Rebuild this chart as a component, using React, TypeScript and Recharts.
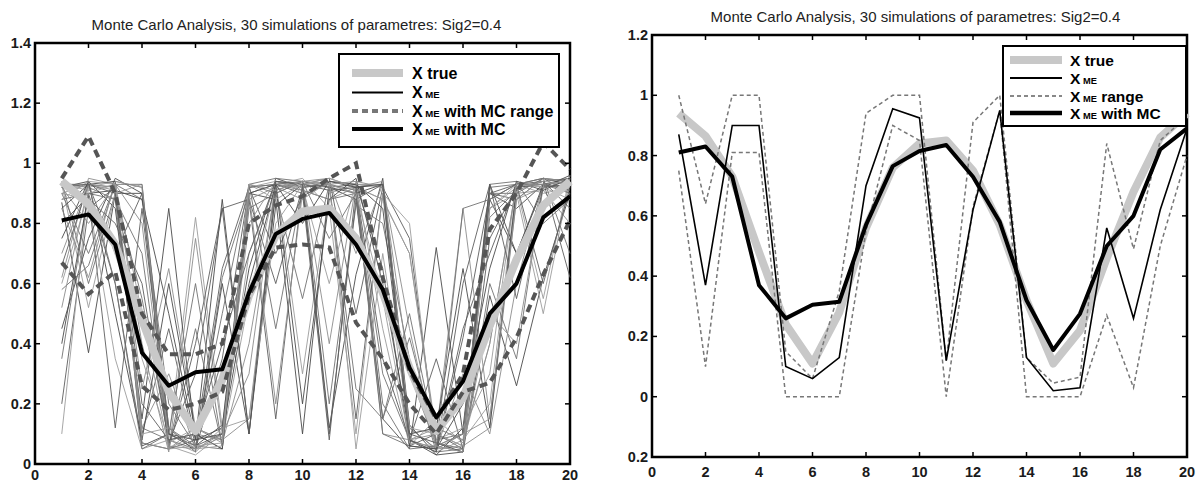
import React from "react";
import { LineChart, Line, XAxis, YAxis, ReferenceArea } from "recharts";

// ---------------- data ----------------
const steps = [1, 2, 3, 4, 5, 6, 7, 8, 9, 10, 11, 12, 13, 14, 15, 16, 17, 18, 19, 20];
const xTicks = [0, 2, 4, 6, 8, 10, 12, 14, 16, 18, 20];
const leftYTicks = [0, 0.2, 0.4, 0.6, 0.8, 1, 1.2, 1.4];
const rightYTicks = [-0.2, 0, 0.2, 0.4, 0.6, 0.8, 1, 1.2];
const titleText = "Monte Carlo Analysis, 30 simulations of parametres: Sig2=0.4";

const xTrue = [0.94, 0.865, 0.73, 0.48, 0.24, 0.11, 0.28, 0.56, 0.76, 0.84, 0.85, 0.75, 0.57, 0.32, 0.11, 0.22, 0.46, 0.68, 0.86, 0.94];
const xMeMc = [0.81, 0.83, 0.73, 0.37, 0.26, 0.305, 0.315, 0.57, 0.765, 0.815, 0.835, 0.73, 0.58, 0.32, 0.155, 0.275, 0.5, 0.6, 0.82, 0.89];
const mcRangeUpper = [0.95, 1.09, 0.9, 0.5, 0.365, 0.365, 0.4, 0.8, 0.86, 0.89, 0.95, 1.0, 0.62, 0.31, 0.15, 0.3, 0.78, 0.9, 1.07, 0.98];
const mcRangeLower = [0.67, 0.565, 0.64, 0.26, 0.18, 0.2, 0.24, 0.56, 0.72, 0.73, 0.72, 0.47, 0.35, 0.2, 0.1, 0.24, 0.27, 0.42, 0.63, 0.81];

const xMeSingle = [0.87, 0.37, 0.9, 0.9, 0.1, 0.06, 0.13, 0.7, 0.955, 0.925, 0.12, 0.62, 0.95, 0.13, 0.02, 0.03, 0.56, 0.26, 0.62, 0.89];
const meRangeUpper = [1.0, 0.64, 1.0, 1.0, 0.15, 0.06, 0.35, 0.94, 1.0, 1.0, 0.12, 0.91, 1.0, 0.13, 0.045, 0.065, 0.84, 0.49, 0.85, 0.93];
const meRangeLower = [0.75, 0.1, 0.81, 0.81, 0.0, 0.0, 0.0, 0.55, 0.9, 0.85, 0.0, 0.63, 0.95, 0.0, 0.0, 0.0, 0.27, 0.03, 0.5, 0.8];

const sim01 = [0.87, 0.37, 0.9, 0.9, 0.1, 0.06, 0.13, 0.65, 0.95, 0.92, 0.12, 0.63, 0.95, 0.13, 0.03, 0.04, 0.56, 0.26, 0.62, 0.9];
const sim02 = [0.93, 0.92, 0.88, 0.12, 0.08, 0.05, 0.62, 0.9, 0.93, 0.91, 0.88, 0.9, 0.3, 0.08, 0.05, 0.1, 0.82, 0.91, 0.94, 0.95];
const sim03 = [0.62, 0.95, 0.93, 0.8, 0.05, 0.1, 0.08, 0.15, 0.9, 0.94, 0.95, 0.92, 0.88, 0.7, 0.1, 0.06, 0.12, 0.88, 0.92, 0.93];
const sim04 = [0.2, 0.85, 0.92, 0.1, 0.45, 0.06, 0.1, 0.88, 0.6, 0.92, 0.93, 0.15, 0.9, 0.12, 0.05, 0.45, 0.7, 0.93, 0.95, 0.9];
const sim05 = [0.9, 0.88, 0.35, 0.05, 0.08, 0.82, 0.12, 0.92, 0.94, 0.3, 0.9, 0.93, 0.92, 0.1, 0.12, 0.08, 0.2, 0.92, 0.55, 0.96];
const sim06 = [0.45, 0.75, 0.95, 0.9, 0.12, 0.04, 0.6, 0.1, 0.86, 0.93, 0.92, 0.88, 0.15, 0.05, 0.72, 0.1, 0.9, 0.85, 0.93, 0.92];
const sim07 = [0.94, 0.6, 0.9, 0.55, 0.08, 0.1, 0.05, 0.93, 0.95, 0.94, 0.2, 0.86, 0.8, 0.35, 0.04, 0.05, 0.6, 0.35, 0.93, 0.94];
const sim08 = [0.7, 0.93, 0.91, 0.25, 0.65, 0.12, 0.07, 0.4, 0.92, 0.88, 0.94, 0.93, 0.1, 0.08, 0.1, 0.85, 0.15, 0.9, 0.91, 0.8];
const sim09 = [0.88, 0.9, 0.6, 0.07, 0.05, 0.4, 0.85, 0.88, 0.15, 0.93, 0.95, 0.5, 0.92, 0.75, 0.06, 0.04, 0.9, 0.88, 0.95, 0.94];
const sim10 = [0.1, 0.92, 0.94, 0.92, 0.06, 0.03, 0.1, 0.7, 0.93, 0.92, 0.6, 0.94, 0.45, 0.06, 0.15, 0.07, 0.4, 0.93, 0.9, 0.92];
const sim11 = [0.92, 0.94, 0.85, 0.15, 0.85, 0.08, 0.12, 0.9, 0.88, 0.1, 0.92, 0.9, 0.93, 0.08, 0.03, 0.12, 0.88, 0.7, 0.92, 0.96];
const sim12 = [0.58, 0.66, 0.93, 0.88, 0.2, 0.06, 0.05, 0.85, 0.9, 0.94, 0.93, 0.25, 0.15, 0.42, 0.08, 0.1, 0.93, 0.94, 0.8, 0.88];
const sim13 = [0.9, 0.93, 0.92, 0.4, 0.04, 0.75, 0.1, 0.3, 0.94, 0.91, 0.88, 0.92, 0.94, 0.12, 0.05, 0.3, 0.1, 0.6, 0.93, 0.94];
const sim14 = [0.8, 0.89, 0.12, 0.85, 0.1, 0.05, 0.35, 0.92, 0.7, 0.89, 0.94, 0.93, 0.65, 0.06, 0.1, 0.05, 0.75, 0.92, 0.94, 0.62];
const sim15 = [0.93, 0.52, 0.9, 0.93, 0.07, 0.12, 0.08, 0.55, 0.93, 0.95, 0.85, 0.1, 0.9, 0.8, 0.04, 0.08, 0.85, 0.9, 0.5, 0.95];
const sim16 = [0.85, 0.93, 0.94, 0.06, 0.1, 0.08, 0.88, 0.1, 0.91, 0.94, 0.92, 0.93, 0.85, 0.1, 0.12, 0.65, 0.12, 0.92, 0.93, 0.91];
const sim17 = [0.35, 0.9, 0.88, 0.7, 0.06, 0.45, 0.06, 0.93, 0.9, 0.55, 0.93, 0.91, 0.2, 0.05, 0.06, 0.1, 0.92, 0.93, 0.95, 0.93];
const sim18 = [0.92, 0.8, 0.93, 0.12, 0.3, 0.05, 0.1, 0.8, 0.94, 0.92, 0.94, 0.7, 0.93, 0.45, 0.05, 0.06, 0.5, 0.4, 0.92, 0.94];
const sim19 = [0.66, 0.93, 0.7, 0.9, 0.05, 0.08, 0.65, 0.92, 0.93, 0.9, 0.08, 0.92, 0.93, 0.08, 0.35, 0.05, 0.88, 0.93, 0.94, 0.85];
const sim20 = [0.93, 0.91, 0.93, 0.35, 0.08, 0.04, 0.12, 0.15, 0.8, 0.93, 0.95, 0.92, 0.88, 0.7, 0.08, 0.12, 0.3, 0.94, 0.92, 0.93];
const sim21 = [0.75, 0.94, 0.5, 0.08, 0.6, 0.1, 0.05, 0.9, 0.93, 0.2, 0.88, 0.95, 0.6, 0.1, 0.07, 0.04, 0.93, 0.7, 0.93, 0.95];
const sim22 = [0.9, 0.7, 0.93, 0.93, 0.12, 0.06, 0.5, 0.93, 0.45, 0.92, 0.93, 0.9, 0.1, 0.06, 0.05, 0.85, 0.88, 0.93, 0.93, 0.9];
const sim23 = [0.52, 0.93, 0.92, 0.07, 0.05, 0.12, 0.08, 0.88, 0.92, 0.94, 0.4, 0.93, 0.93, 0.3, 0.06, 0.1, 0.15, 0.88, 0.95, 0.94];
const sim24 = [0.93, 0.88, 0.8, 0.6, 0.07, 0.3, 0.85, 0.1, 0.94, 0.93, 0.91, 0.92, 0.35, 0.08, 0.04, 0.42, 0.9, 0.93, 0.6, 0.92];
const sim25 = [0.88, 0.94, 0.93, 0.1, 0.12, 0.05, 0.06, 0.93, 0.88, 0.93, 0.94, 0.05, 0.7, 0.12, 0.1, 0.06, 0.85, 0.92, 0.94, 0.93];
const sim26 = [0.4, 0.9, 0.91, 0.88, 0.5, 0.08, 0.1, 0.6, 0.93, 0.8, 0.94, 0.92, 0.93, 0.06, 0.05, 0.2, 0.65, 0.94, 0.91, 0.95];
const sim27 = [0.93, 0.93, 0.6, 0.05, 0.1, 0.6, 0.06, 0.92, 0.93, 0.94, 0.75, 0.9, 0.15, 0.5, 0.07, 0.05, 0.9, 0.9, 0.95, 0.7];
const sim28 = [0.85, 0.62, 0.94, 0.92, 0.06, 0.05, 0.09, 0.9, 0.2, 0.9, 0.93, 0.94, 0.92, 0.08, 0.12, 0.08, 0.4, 0.93, 0.93, 0.94];
const sim29 = [0.92, 0.93, 0.9, 0.2, 0.08, 0.1, 0.4, 0.7, 0.94, 0.93, 0.1, 0.88, 0.93, 0.08, 0.04, 0.6, 0.93, 0.55, 0.92, 0.93];
const sim30 = [0.6, 0.9, 0.93, 0.5, 0.05, 0.06, 0.07, 0.93, 0.91, 0.94, 0.93, 0.9, 0.55, 0.07, 0.06, 0.04, 0.85, 0.93, 0.92, 0.88];

const simulations = [
  sim01, sim02, sim03, sim04, sim05, sim06, sim07, sim08, sim09, sim10,
  sim11, sim12, sim13, sim14, sim15, sim16, sim17, sim18, sim19, sim20,
  sim21, sim22, sim23, sim24, sim25, sim26, sim27, sim28, sim29, sim30,
];

const leftLegendLabels = [
  { main: "X", sub: "ME", rest: "", name: "true" },
  { main: "X", sub: "ME", rest: "", name: "me" },
  { main: "X", sub: "ME", rest: " with MC range", name: "range" },
  { main: "X", sub: "ME", rest: " with MC", name: "mc" },
];
const rightLegendLabels = [
  { main: "X", sub: "ME", rest: "", name: "true" },
  { main: "X", sub: "ME", rest: "", name: "me" },
  { main: "X", sub: "ME", rest: " range", name: "range" },
  { main: "X", sub: "ME", rest: " with MC", name: "mc" },
];

// ---------------- table built from arrays ----------------
const leftData = steps.map((s, i) => {
  const row: Record<string, number> = {
    x: s,
    xTrue: xTrue[i],
    xMeMc: xMeMc[i],
    up: mcRangeUpper[i],
    lo: mcRangeLower[i],
  };
  simulations.forEach((sim, k) => {
    row["s" + k] = sim[i];
  });
  return row;
});

const rightData = steps.map((s, i) => ({
  x: s,
  xTrue: xTrue[i],
  xMeMc: xMeMc[i],
  xMe: xMeSingle[i],
  up: meRangeUpper[i],
  lo: meRangeLower[i],
}));

// ---------------- styles ----------------
const FONT = '"Liberation Sans", Arial, Helvetica, sans-serif';
const tickTextStyle: React.CSSProperties = { fontFamily: FONT, fontSize: 14.5, fontWeight: 700, fill: "#1a1a1a" };
const simColors = ["#4a4a4a", "#727272", "#8c8c8c", "#5e5e5e", "#9c9c9c"];
const TRUE_COLOR = "#c8c8c8";

function fmtY(v: number) {
  const a = Math.abs(v);
  const r = Math.round(a * 10) / 10;
  return String(r);
}

function makeXTick(top: number, bottom: number, labelDy: number) {
  return (props: any) => {
    const { x, payload } = props;
    const v = payload.value;
    const inner = v !== 0 && v !== 20;
    return (
      <g>
        {inner && <line x1={x} x2={x} y1={bottom} y2={bottom - 5} stroke="#000" strokeWidth={1.5} />}
        {inner && <line x1={x} x2={x} y1={top} y2={top + 5} stroke="#000" strokeWidth={1.5} />}
        <text x={x} y={bottom + labelDy} textAnchor="middle" style={tickTextStyle}>
          {v}
        </text>
      </g>
    );
  };
}

function makeYTick(left: number, right: number, isEnd: (v: number) => boolean) {
  return (props: any) => {
    const { y, payload } = props;
    const v = payload.value;
    const inner = !isEnd(v);
    return (
      <g>
        {inner && <line x1={left} x2={left + 5} y1={y} y2={y} stroke="#000" strokeWidth={1.5} />}
        {inner && <line x1={right} x2={right - 5} y1={y} y2={y} stroke="#000" strokeWidth={1.5} />}
        <text x={left - 4} y={y + 5} textAnchor="end" style={tickTextStyle}>
          {fmtY(v)}
        </text>
      </g>
    );
  };
}

type LegendItem = { main: string; sub: string; rest: string; name: string };

function LegendBox(props: {
  left: number;
  top: number;
  width: number;
  height: number;
  items: LegendItem[];
  rows: number[];
  fontSize: number;
  sampleX1: number;
  sampleX2: number;
  textX: number;
  styles: Record<string, { stroke: string; width: number; dash?: string }>;
}) {
  const { left, top, width, height, items, rows, fontSize, sampleX1, sampleX2, textX, styles } = props;
  return (
    <svg
      width={width}
      height={height}
      style={{ position: "absolute", left, top, overflow: "visible" }}
    >
      <rect x={1} y={1} width={width - 2} height={height - 2} fill="#fff" stroke="#000" strokeWidth={2} />
      {items.map((it, i) => {
        const st = styles[it.name];
        const label = it.name === "true" ? "true" : null;
        return (
          <g key={i}>
            <line
              x1={sampleX1}
              x2={sampleX2}
              y1={rows[i]}
              y2={rows[i]}
              stroke={st.stroke}
              strokeWidth={st.width}
              strokeDasharray={st.dash}
            />
            <text
              x={textX}
              y={rows[i] + fontSize * 0.36}
              style={{ fontFamily: FONT, fontWeight: 700, fontSize, fill: "#000" }}
            >
              {it.main}
              {label ? (
                <tspan> {label}</tspan>
              ) : (
                <>
                  <tspan fontSize={fontSize * 0.6}> {it.sub}</tspan>
                  <tspan>{it.rest}</tspan>
                </>
              )}
            </text>
          </g>
        );
      })}
    </svg>
  );
}

// ---------------- layout constants ----------------
const L = { w: 600, h: 483, top: 43, bottom: 464, left: 35, right: 570 };
const R = { x0: 610, w: 588, h: 483, top: 35, bottom: 457, left: 42, right: 577 };

export default function App() {
  return (
    <div style={{ position: "absolute", left: 0, top: 0, width: 1198, height: 483, background: "#fff", overflow: "hidden" }}>
      {/* left panel */}
      <div style={{ position: "absolute", left: 0, top: 0 }}>
        <LineChart
          width={L.w}
          height={L.h}
          data={leftData}
          margin={{ top: L.top, right: L.w - L.right, bottom: 0, left: 0 }}
        >
          <XAxis
            dataKey="x"
            type="number"
            domain={[0, 20]}
            ticks={xTicks}
            height={L.h - L.bottom}
            tickSize={0}
            tickMargin={0}
            axisLine={false}
            tickLine={false}
            interval={0}
            tick={makeXTick(L.top, L.bottom, 15.5)}
          />
          <YAxis
            type="number"
            domain={[0, 1.4]}
            ticks={leftYTicks}
            width={L.left}
            tickSize={0}
            tickMargin={0}
            axisLine={false}
            tickLine={false}
            interval={0}
            tick={makeYTick(L.left, L.right, (v) => v === 0 || v === 1.4)}
          />
          {simulations.map((_, k) => (
            <Line
              key={k}
              dataKey={"s" + k}
              type="linear"
              stroke={simColors[k % simColors.length]}
              strokeWidth={0.9}
              dot={false}
              activeDot={false}
              isAnimationActive={false}
            />
          ))}
          <Line dataKey="xTrue" type="linear" stroke={TRUE_COLOR} strokeWidth={8} strokeLinejoin="round" dot={false} activeDot={false} isAnimationActive={false} />
          <Line dataKey="up" type="linear" stroke="#555" strokeWidth={4} strokeDasharray="8 5" dot={false} activeDot={false} isAnimationActive={false} />
          <Line dataKey="lo" type="linear" stroke="#555" strokeWidth={4} strokeDasharray="8 5" dot={false} activeDot={false} isAnimationActive={false} />
          <Line dataKey="xMeMc" type="linear" stroke="#000" strokeWidth={4} strokeLinejoin="round" dot={false} activeDot={false} isAnimationActive={false} />
          <ReferenceArea x1={0} x2={20} y1={0} y2={1.4} fill="none" stroke="#000" strokeWidth={2.5} ifOverflow="visible" />
        </LineChart>
        <div
          style={{
            position: "absolute",
            left: L.left - 6,
            width: L.right - L.left,
            top: 16,
            textAlign: "center",
            fontFamily: FONT,
            fontSize: 15,
            color: "#222",
            whiteSpace: "nowrap",
          }}
        >
          {titleText}
        </div>
        <LegendBox
          left={338}
          top={53}
          width={222}
          height={95}
          items={leftLegendLabels}
          rows={[20, 39.5, 58, 76]}
          fontSize={16}
          sampleX1={14}
          sampleX2={65}
          textX={74}
          styles={{
            true: { stroke: TRUE_COLOR, width: 8 },
            me: { stroke: "#000", width: 2 },
            range: { stroke: "#777", width: 4, dash: "6 4" },
            mc: { stroke: "#000", width: 4 },
          }}
        />
      </div>

      {/* right panel */}
      <div style={{ position: "absolute", left: R.x0, top: 0 }}>
        <LineChart
          width={R.w}
          height={R.h}
          data={rightData}
          margin={{ top: R.top, right: R.w - R.right, bottom: 0, left: 0 }}
        >
          <XAxis
            dataKey="x"
            type="number"
            domain={[0, 20]}
            ticks={xTicks}
            height={R.h - R.bottom}
            tickSize={0}
            tickMargin={0}
            axisLine={false}
            tickLine={false}
            interval={0}
            tick={makeXTick(R.top, R.bottom, 20)}
          />
          <YAxis
            type="number"
            domain={[-0.2, 1.2]}
            ticks={rightYTicks}
            width={R.left}
            tickSize={0}
            tickMargin={0}
            axisLine={false}
            tickLine={false}
            interval={0}
            tick={makeYTick(R.left, R.right, (v) => Math.abs(v + 0.2) < 1e-9 || Math.abs(v - 1.2) < 1e-9)}
          />
          <Line dataKey="xTrue" type="linear" stroke={TRUE_COLOR} strokeWidth={8} strokeLinejoin="round" dot={false} activeDot={false} isAnimationActive={false} />
          <Line dataKey="up" type="linear" stroke="#777" strokeWidth={1.5} strokeDasharray="4 3" dot={false} activeDot={false} isAnimationActive={false} />
          <Line dataKey="lo" type="linear" stroke="#777" strokeWidth={1.5} strokeDasharray="4 3" dot={false} activeDot={false} isAnimationActive={false} />
          <Line dataKey="xMe" type="linear" stroke="#000" strokeWidth={1.6} dot={false} activeDot={false} isAnimationActive={false} />
          <Line dataKey="xMeMc" type="linear" stroke="#000" strokeWidth={4} strokeLinejoin="round" dot={false} activeDot={false} isAnimationActive={false} />
          <ReferenceArea x1={0} x2={20} y1={-0.2} y2={1.2} fill="none" stroke="#000" strokeWidth={2.5} ifOverflow="visible" />
        </LineChart>
        <div
          style={{
            position: "absolute",
            left: R.left - 4,
            width: R.right - R.left,
            top: 8,
            textAlign: "center",
            fontFamily: FONT,
            fontSize: 15,
            color: "#222",
            whiteSpace: "nowrap",
          }}
        >
          {titleText}
        </div>
        <LegendBox
          left={1002 - R.x0}
          top={45}
          width={185}
          height={82}
          items={rightLegendLabels}
          rows={[15, 33, 51, 68]}
          fontSize={15.5}
          sampleX1={8}
          sampleX2={60}
          textX={68}
          styles={{
            true: { stroke: TRUE_COLOR, width: 8 },
            me: { stroke: "#000", width: 2 },
            range: { stroke: "#888", width: 1.8, dash: "4 3" },
            mc: { stroke: "#000", width: 4.5 },
          }}
        />
      </div>
    </div>
  );
}
